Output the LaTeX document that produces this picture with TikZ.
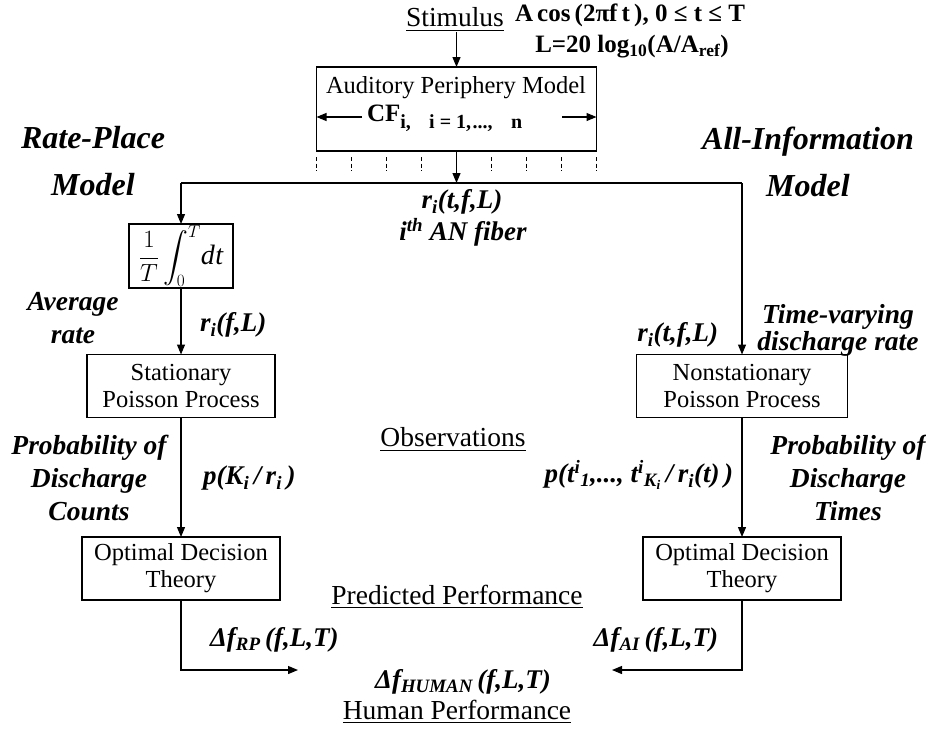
\documentclass[tikz,border=0pt]{standalone}
\usepackage{exscale}
\usepackage{fontspec}
\setmainfont{Liberation Serif}
\usetikzlibrary{arrows.meta,calc}
\newcommand\boxfont{\fontsize{24.5}{27}\selectfont}
\newcommand\headfont{\fontsize{32}{47}\selectfont\bfseries\itshape}
\newcommand\sidefont{\fontsize{27.5}{33}\selectfont\bfseries\itshape}
\newcommand\labfont{\fontsize{27}{30}\selectfont\bfseries\itshape}
\newcommand\ulfont{\fontsize{27.5}{30}\selectfont}
\newcommand\formfont{\fontsize{25}{28}\selectfont\bfseries}
\newcommand\intfont{\fontsize{24}{28}\selectfont}
\begin{document}
\begin{tikzpicture}[x=1pt,y=-1pt,
  every node/.style={inner sep=0pt, outer sep=0pt},
  blk/.style={draw, line width=1.1pt, align=center, font=\boxfont, minimum height=63pt},
  arr/.style={line width=1.2pt, -{Triangle[length=10pt,width=8pt]}},
  ln/.style={line width=1.2pt},
  tickline/.style={line width=1.3pt, dash pattern=on 4pt off 2.5pt},
  head/.style={font=\headfont, align=center},
  side/.style={font=\sidefont, align=center},
  lab/.style={font=\labfont},
  ul/.style={font=\ulfont},
]
\useasboundingbox (0,0) rectangle (926,731);

% top
\node[ul] (stim) at (455,20) {\underline{Stimulus}};
\node[font=\formfont, anchor=west] (form1) at (515,15) {A\,cos\,(2πf\,t\,), 0 ≤ t ≤ T};
\node[font=\formfont] (form2) at (632,47) {L=20 log\textsubscript{10}(A/A\textsubscript{ref})};

\node[draw, line width=1.1pt, minimum width=280pt, minimum height=84pt] (ap) at (456.5,109) {};
\node[font=\boxfont] (apt) at (456,88) {Auditory Periphery Model};
\node[font=\formfont, anchor=west] (cf) at (367,118) {CF\raisebox{-7pt}{\fontsize{20}{22}\selectfont i,\enspace\, i = 1,\kern1.5pt...,\enspace\, n}};
\coordinate (cfl) at (362,117);
\coordinate (cfr) at (562,117);
\draw[arr] (cfl) -- (cfl -| ap.west);
\draw[arr] (cfr) -- (cfr -| ap.east);
\draw[arr] (ap.north |- stim.south) -- (ap.north);

\foreach \k in {0,1,2,3,5,6,7,8}
  \draw[tickline] ({316.5+35*\k},157) -- ({316.5+35*\k},171);

\coordinate (j) at (456.5,183);
\coordinate (jl) at (181,183);
\coordinate (jr) at (742,183);
\draw[arr] (ap.south) -- (j);
\draw[ln] (jl) -- (jr);

% headings
\node[head] (rp) at (93,161.5) {Rate-Place\\Model};
\node[head] (ai) at (808,161.5) {All-Information\\Model};
\node[lab] (rt) at (462,202) {r\textsubscript{i}(t,f,L)};
\node[lab] (anf) at (463,232) {i\textsuperscript{th} AN fiber};

% left column
\node[draw, line width=1.1pt, minimum width=104pt, minimum height=64pt, font=\intfont] (int) at (181,256) {$\displaystyle\frac{1}{T}\int_0^T \!\mbox{\fontsize{28}{30}\selectfont\itshape d\kern0.5pt t}$};
\draw[arr] (jl) -- (int.north);
\node[blk, minimum width=188pt] (sp) at (181,386) {Stationary\\Poisson Process};
\draw[arr] (int.south) -- (sp.north);
\node[blk, minimum width=198pt] (odl) at (181,568.5) {Optimal Decision\\Theory};
\draw[arr] (sp.south) -- (odl.north);

% right column
\node[blk, minimum width=211pt] (nsp) at (742,386) {Nonstationary\\Poisson Process};
\draw[arr] (jr) -- (nsp.north);
\node[blk, minimum width=198pt] (odr) at (742,568.5) {Optimal Decision\\Theory};
\draw[arr] (nsp.south) -- (odr.north);

% side labels
\node[side] (avg) at (73,318.5) {Average\\rate};
\node[lab, anchor=west] (rfl) at (200,325) {r\textsubscript{i}(f,L)};
\node[side, font={\fontsize{27.5}{27}\selectfont\bfseries\itshape}] (tv) at (838,330) {Time-varying\\discharge rate};
\node[lab, anchor=east] (rtfl) at (718,335) {r\textsubscript{i}(t,f,L)};

\node[ul] (obs) at (453,440) {\underline{Observations}};
\node[side] (pdc) at (89,478) {Probability of\\Discharge\\Counts};
\node[lab, anchor=west] (pk) at (203,478) {p(K\textsubscript{i}\,/\,r\textsubscript{i}\,)};
\node[lab, anchor=east] (pt) at (733,475) {p(t\textsuperscript{i}\textsubscript{1},..., t\textsuperscript{i}\textsubscript{K\textsubscript{i}}\,/\,r\textsubscript{i}(t)\,)};
\node[side] (pdt) at (848,478) {Probability of\\Discharge\\Times};

% bottom
\node[ul] (pp) at (457,597) {\underline{Predicted Performance}};
\node[lab, anchor=west] (dfrp) at (210,640) {Δf\textsubscript{RP}\,(f,L,T)};
\node[lab, anchor=east] (dfai) at (718,640) {Δf\textsubscript{AI}\,(f,L,T)};
\node[lab] (dfh) at (463,682) {Δf\textsubscript{HUMAN}\,(f,L,T)};
\node[ul] (hp) at (457,712) {\underline{Human Performance}};

\coordinate (blc) at (181,670);
\coordinate (ble) at (298,670);
\draw[arr] (odl.south) -- (blc) -- (ble);
\coordinate (brc) at (742,670);
\coordinate (bre) at (612,670);
\draw[arr] (odr.south) -- (brc) -- (bre);
\end{tikzpicture}
\end{document}
